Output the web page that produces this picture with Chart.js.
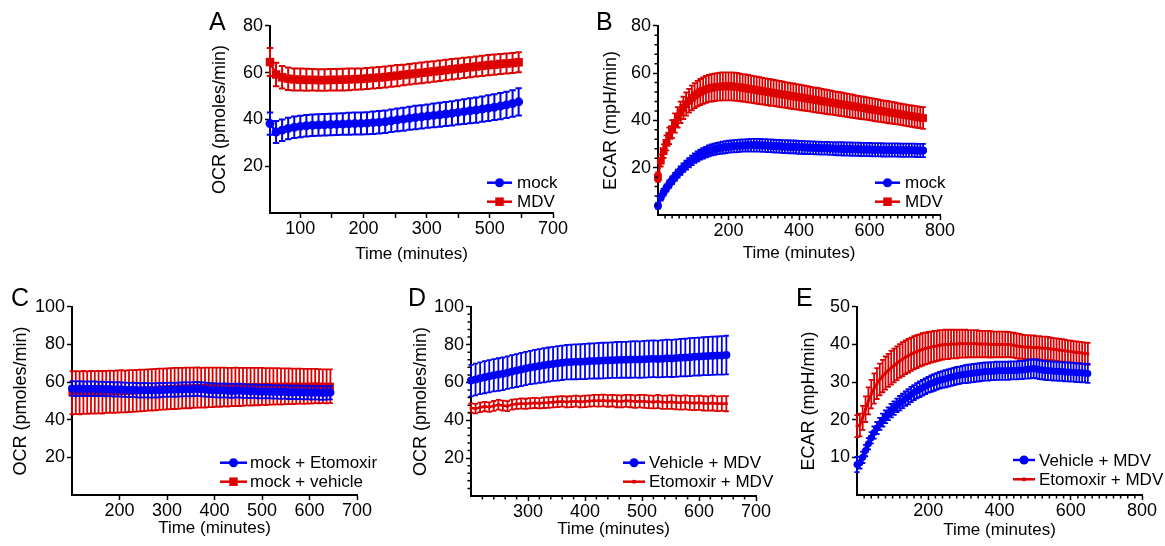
<!DOCTYPE html>
<html><head><meta charset="utf-8">
<script src="https://cdn.jsdelivr.net/npm/chart.js@4.4.1/dist/chart.umd.min.js"></script>
<style>
html,body{margin:0;padding:0;background:#fff;}
body{width:1165px;height:546px;position:relative;overflow:hidden;font-family:'Liberation Sans',Arial,sans-serif;}
.letter{position:absolute;font-size:25px;line-height:25px;color:#000;z-index:5;}
</style></head><body>
<div class="letter" style="left:209px;top:9px">A</div>
<div class="letter" style="left:596px;top:9px">B</div>
<div class="letter" style="left:11px;top:285px">C</div>
<div class="letter" style="left:408px;top:285px">D</div>
<div class="letter" style="left:796px;top:285px">E</div>
<script>
// ---------------- Panel A : OCR, mock vs MDV ----------------
const A_TIME = [52,61.6,71.2,80.8,90.4,100,109.6,119.2,128.8,138.4,
  148,157.6,167.2,176.8,186.4,196,205.6,215.2,224.8,234.4,
  244,253.6,263.2,272.8,282.4,292,301.6,311.2,320.8,330.4,
  340,349.6,359.2,368.8,378.4,388,397.6,407.2,416.8,426.4,
  436,445.6];
const A_MOCK = [38.2,34.6,35.4,36.1,36.6,37.0,37.3,37.5,37.6,37.7,
  37.8,37.9,38.0,38.1,38.2,38.3,38.4,38.6,38.8,39.0,
  39.4,39.8,40.1,40.5,40.8,41.1,41.4,41.7,42.0,42.3,
  42.6,43.0,43.3,43.7,44.0,44.4,44.8,45.2,45.7,46.2,
  46.8,47.5];
const A_MOCK_SD = [4.8,4.7,4.6,4.6,4.6,4.6,4.6,4.6,4.6,4.6,
  4.6,4.6,4.6,4.7,4.7,4.7,4.7,4.8,4.8,4.8,
  4.8,4.9,4.9,4.9,5.0,5.0,5.0,5.1,5.1,5.1,
  5.2,5.2,5.3,5.3,5.4,5.4,5.5,5.5,5.6,5.6,
  5.7,5.8];
const A_MDV = [64.5,59.2,58.0,57.4,57.1,57.0,56.9,56.9,56.8,56.8,
  56.9,56.9,57.0,57.1,57.2,57.3,57.5,57.7,57.9,58.1,
  58.4,58.7,59.0,59.3,59.6,59.9,60.2,60.5,60.8,61.1,
  61.4,61.7,62.0,62.3,62.6,62.9,63.2,63.4,63.7,63.9,
  64.1,64.4];
const A_MDV_SD = [6.0,5.0,4.8,4.8,4.7,4.7,4.7,4.6,4.6,4.6,
  4.6,4.6,4.6,4.6,4.5,4.5,4.5,4.5,4.5,4.5,
  4.5,4.5,4.4,4.4,4.4,4.4,4.4,4.4,4.4,4.4,
  4.4,4.3,4.3,4.3,4.3,4.3,4.3,4.3,4.3,4.3,
  4.3,4.3];
const A_X_TICKS = [100,150,200,250,300,350,400,450,500];
const A_X_LABELS = ['100','','200','','300','','500','','700'];
const A_Y_TICKS = [20,40,60,80];
const A_Y_LABELS = ['20','40','60','80'];

// ---------------- Panel B : ECAR, mock vs MDV ----------------
const B_TIME = [0,8,16,24,32,40,48,56,64,72,
  80,88,96,104,112,120,128,136,144,152,
  160,168,176,184,192,200,208,216,224,232,
  240,248,256,264,272,280,288,296,304,312,
  320,328,336,344,352,360,368,376,384,392,
  400,408,416,424,432,440,448,456,464,472,
  480,488,496,504,512,520,528,536,544,552,
  560,568,576,584,592,600,608,616,624,632,
  640,648,656,664,672,680,688,696,704,712,
  720,728,736,744,752];
const B_MOCK = [3.9,7.5,9.6,11.4,13.1,14.7,16.1,17.5,18.8,20.0,
  21.1,22.1,23.1,24.0,24.8,25.5,26.1,26.6,27.1,27.5,
  27.8,28.1,28.3,28.5,28.7,28.9,29.0,29.1,29.2,29.3,
  29.4,29.4,29.5,29.5,29.5,29.5,29.5,29.4,29.4,29.3,
  29.3,29.2,29.1,29.1,29.0,28.9,28.9,28.8,28.8,28.7,
  28.6,28.6,28.5,28.5,28.4,28.4,28.3,28.3,28.2,28.2,
  28.2,28.1,28.1,28.0,28.0,28.0,27.9,27.9,27.9,27.8,
  27.8,27.8,27.7,27.7,27.7,27.7,27.6,27.6,27.6,27.6,
  27.5,27.5,27.5,27.5,27.5,27.5,27.4,27.4,27.4,27.4,
  27.4,27.4,27.3,27.3,27.3];
const B_MOCK_SD = [1.2,1.4,1.5,1.5,1.6,1.6,1.7,1.7,1.8,1.8,
  1.9,1.9,2.0,2.0,2.1,2.1,2.2,2.2,2.3,2.3,
  2.4,2.4,2.4,2.5,2.5,2.5,2.5,2.6,2.6,2.6,
  2.6,2.6,2.6,2.7,2.7,2.7,2.7,2.7,2.7,2.7,
  2.7,2.7,2.7,2.7,2.7,2.7,2.7,2.7,2.7,2.7,
  2.7,2.7,2.7,2.7,2.7,2.7,2.7,2.7,2.7,2.7,
  2.7,2.7,2.7,2.7,2.8,2.8,2.8,2.8,2.8,2.8,
  2.8,2.8,2.8,2.8,2.8,2.8,2.8,2.8,2.8,2.8,
  2.8,2.8,2.8,2.8,2.8,2.8,2.8,2.8,2.8,2.8,
  2.8,2.8,2.8,2.8,2.8];
const B_MDV = [16.0,23.0,27.0,30.5,33.5,36.3,38.9,41.3,43.4,45.3,
  46.9,48.3,49.5,50.5,51.3,52.0,52.6,53.1,53.5,53.8,
  54.0,54.2,54.3,54.4,54.4,54.4,54.4,54.3,54.2,54.0,
  53.8,53.6,53.4,53.2,53.0,52.8,52.6,52.4,52.2,52.0,
  51.8,51.6,51.4,51.2,51.0,50.8,50.6,50.4,50.2,50.0,
  49.8,49.6,49.4,49.2,49.0,48.8,48.6,48.4,48.2,48.0,
  47.8,47.6,47.4,47.2,47.0,46.8,46.6,46.4,46.2,46.0,
  45.8,45.6,45.4,45.2,45.0,44.8,44.6,44.4,44.2,44.0,
  43.8,43.6,43.4,43.2,43.0,42.8,42.6,42.4,42.2,42.0,
  41.8,41.6,41.4,41.2,41.0];
const B_MDV_SD = [2.0,2.5,2.9,3.2,3.5,3.8,4.1,4.3,4.5,4.7,
  4.9,5.0,5.2,5.3,5.4,5.5,5.6,5.7,5.7,5.8,
  5.8,5.8,5.9,5.9,5.9,5.9,5.9,5.9,5.9,5.8,
  5.8,5.8,5.8,5.7,5.7,5.7,5.7,5.6,5.6,5.6,
  5.6,5.5,5.5,5.5,5.5,5.4,5.4,5.4,5.4,5.3,
  5.3,5.3,5.3,5.3,5.2,5.2,5.2,5.2,5.1,5.1,
  5.1,5.1,5.0,5.0,5.0,5.0,4.9,4.9,4.9,4.9,
  4.8,4.8,4.8,4.8,4.7,4.7,4.7,4.7,4.7,4.6,
  4.6,4.6,4.6,4.6,4.6,4.5,4.5,4.5,4.5,4.5,
  4.5,4.5,4.5,4.5,4.6];
const B_X_TICKS = [200,400,600,800];
const B_X_LABELS = ['200','400','600','800'];
const B_Y_TICKS = [20,40,60,80];
const B_Y_LABELS = ['20','40','60','80'];

// ---------------- Panel C : OCR, mock + Etomoxir vs mock + vehicle ----------------
const C_TIME = [100,108,116,124,132,140,148,156,164,172,
  180,188,196,204,212,220,228,236,244,252,
  260,268,276,284,292,300,308,316,324,332,
  340,348,356,364,372,380,388,396,404,412,
  420,428,436,444,452,460,468,476,484,492,
  500,508,516,524,532,540,548,556,564,572,
  580,588,596,604,612,620,628,636,644];
const C_ETO = [56.6,56.5,56.6,56.4,56.5,56.4,56.5,56.3,56.4,56.2,
  56.3,56.1,56.2,56.0,55.9,55.8,55.9,55.7,55.6,55.7,
  55.6,55.5,55.6,55.7,55.8,55.9,56.0,55.9,56.0,56.1,
  56.2,56.1,56.3,56.4,56.2,56.0,55.8,55.7,55.6,55.5,
  55.6,55.4,55.3,55.4,55.5,55.3,55.2,55.1,55.2,55.0,
  54.9,55.0,54.9,54.8,54.8,54.7,54.8,54.6,54.5,54.6,
  54.5,54.4,54.5,54.3,54.4,54.3,54.2,54.3,54.4];
const C_ETO_SD = [3.9,3.9,3.9,3.9,3.9,3.9,3.9,3.8,3.8,3.8,
  3.8,3.8,3.8,3.8,3.8,3.8,3.8,3.8,3.8,3.8,
  3.8,3.8,3.8,3.8,3.7,3.7,3.7,3.7,3.7,3.7,
  3.7,3.7,3.7,3.7,3.7,3.7,3.7,3.7,3.7,3.7,
  3.7,3.7,3.7,3.7,3.7,3.7,3.6,3.6,3.6,3.6,
  3.6,3.6,3.6,3.6,3.6,3.6,3.6,3.6,3.6,3.6,
  3.6,3.6,3.6,3.6,3.6,3.6,3.6,3.6,3.6];
const C_VEH = [54.3,54.4,54.3,54.5,54.4,54.6,54.5,54.7,54.6,54.8,
  54.9,54.8,55.0,55.1,55.0,55.2,55.3,55.4,55.5,55.6,
  55.8,55.9,56.0,56.2,56.3,56.4,56.5,56.6,56.7,56.8,
  56.9,56.9,57.0,57.1,57.0,57.1,57.2,57.2,57.3,57.3,
  57.4,57.3,57.4,57.5,57.4,57.5,57.6,57.5,57.6,57.6,
  57.7,57.6,57.7,57.7,57.8,57.7,57.8,57.8,57.7,57.8,
  57.8,57.7,57.8,57.8,57.9,57.8,57.8,57.7,57.8];
const C_VEH_SD = [11.4,11.4,11.4,11.4,11.3,11.3,11.3,11.3,11.3,11.2,
  11.2,11.2,11.2,11.2,11.1,11.1,11.1,11.1,11.1,11.0,
  11.0,11.0,11.0,11.0,10.9,10.9,10.9,10.9,10.9,10.8,
  10.8,10.8,10.7,10.7,10.6,10.6,10.5,10.5,10.4,10.4,
  10.3,10.3,10.2,10.2,10.1,10.1,10.0,10.0,9.9,9.9,
  9.8,9.8,9.7,9.7,9.6,9.6,9.5,9.5,9.4,9.4,
  9.3,9.3,9.2,9.2,9.1,9.1,9.0,9.0,9.0];
const C_X_TICKS = [200,300,400,500,600,700];
const C_X_LABELS = ['200','300','400','500','600','700'];
const C_Y_TICKS = [20,40,60,80,100];
const C_Y_LABELS = ['20','40','60','80','100'];

// ---------------- Panel D : OCR, Vehicle + MDV vs Etomoxir + MDV ----------------
const D_TIME = [200,208,216,224,232,240,248,256,264,272,
  280,288,296,304,312,320,328,336,344,352,
  360,368,376,384,392,400,408,416,424,432,
  440,448,456,464,472,480,488,496,504,512,
  520,528,536,544,552,560,568,576,584,592,
  600,608,616,624,632,640,648];
const D_VEH = [61.0,61.6,62.2,62.8,63.3,63.8,64.2,64.6,65.2,65.8,
  66.3,66.9,67.4,67.9,68.3,68.7,69.1,69.5,69.8,70.1,
  70.4,70.7,70.8,70.9,71.0,71.1,71.3,71.4,71.5,71.6,
  71.7,71.8,71.9,72.0,72.0,72.1,72.2,72.1,72.3,72.4,
  72.5,72.4,72.6,72.8,72.7,72.9,73.1,73.2,73.4,73.6,
  73.7,73.9,74.0,74.1,74.2,74.3,74.5];
const D_VEH_SD = [8.3,8.4,8.4,8.5,8.5,8.5,8.6,8.6,8.6,8.7,
  8.7,8.8,8.8,8.8,8.9,8.9,9.0,9.0,9.0,9.1,
  9.1,9.1,9.2,9.2,9.2,9.3,9.3,9.3,9.4,9.4,
  9.4,9.4,9.5,9.5,9.5,9.6,9.6,9.6,9.7,9.7,
  9.7,9.7,9.8,9.8,9.8,9.9,9.9,9.9,10.0,10.0,
  10.0,10.0,10.1,10.1,10.1,10.2,10.2];
const D_ETO = [46.5,46.2,46.8,47.3,47.0,47.6,48.2,47.8,47.5,48.3,
  48.6,48.9,48.7,49.0,49.2,49.0,49.3,49.4,49.6,49.8,
  50.0,49.7,49.9,50.1,49.8,50.0,50.2,50.4,50.3,50.5,
  50.2,50.4,50.1,50.0,50.3,50.2,49.9,50.1,50.0,49.8,
  49.7,49.9,49.6,49.5,49.7,49.4,49.3,49.5,49.2,49.1,
  49.3,49.0,48.9,49.1,48.8,48.9,48.8];
const D_ETO_SD = [2.5,2.5,2.5,2.5,2.5,2.6,2.6,2.6,2.6,2.6,
  2.6,2.7,2.7,2.7,2.7,2.7,2.8,2.8,2.8,2.8,
  2.8,2.9,2.9,2.9,3.0,3.0,3.0,3.0,3.1,3.1,
  3.1,3.1,3.2,3.2,3.2,3.3,3.3,3.3,3.4,3.4,
  3.4,3.5,3.5,3.5,3.6,3.6,3.6,3.7,3.7,3.7,
  3.8,3.8,3.8,3.9,3.9,3.9,4.0];
const D_X_TICKS = [300,400,500,600,700];
const D_X_LABELS = ['300','400','500','600','700'];
const D_Y_TICKS = [20,40,60,80,100];
const D_Y_LABELS = ['20','40','60','80','100'];

// ---------------- Panel E : ECAR, Vehicle + MDV vs Etomoxir + MDV ----------------
const E_TIME = [0,8,16,24,32,40,48,56,64,72,
  80,88,96,104,112,120,128,136,144,152,
  160,168,176,184,192,200,208,216,224,232,
  240,248,256,264,272,280,288,296,304,312,
  320,328,336,344,352,360,368,376,384,392,
  400,408,416,424,432,440,448,456,464,472,
  480,488,496,504,512,520,528,536,544,552,
  560,568,576,584,592,600,608,616,624,632,
  640,648];
const E_VEH = [8.1,8.6,10.0,11.8,13.6,15.2,16.6,17.8,18.9,19.9,
  20.8,21.6,22.4,23.1,23.8,24.4,25.0,25.6,26.1,26.7,
  27.2,27.7,28.1,28.5,28.9,29.3,29.6,29.9,30.2,30.5,
  30.7,30.9,31.1,31.3,31.5,31.7,31.8,32.0,32.1,32.2,
  32.3,32.4,32.5,32.6,32.7,32.8,32.8,32.9,32.9,33.0,
  33.0,33.0,33.0,33.0,33.1,33.1,33.1,33.2,33.2,33.3,
  33.4,33.5,33.6,33.5,33.3,33.2,33.1,33.0,33.0,32.9,
  32.9,32.8,32.8,32.7,32.7,32.6,32.6,32.5,32.5,32.4,
  32.4,32.3];
const E_VEH_SD = [2.0,1.6,1.5,1.5,1.5,1.5,1.6,1.6,1.6,1.7,
  1.7,1.7,1.8,1.8,1.8,1.9,1.9,1.9,2.0,2.0,
  2.0,2.0,2.1,2.1,2.1,2.1,2.2,2.2,2.2,2.2,
  2.2,2.3,2.3,2.3,2.3,2.3,2.3,2.3,2.4,2.4,
  2.4,2.4,2.4,2.4,2.4,2.4,2.4,2.4,2.4,2.4,
  2.4,2.4,2.4,2.4,2.4,2.4,2.4,2.4,2.4,2.4,
  2.5,2.5,2.5,2.5,2.5,2.5,2.5,2.5,2.5,2.5,
  2.5,2.5,2.5,2.5,2.5,2.5,2.5,2.5,2.5,2.5,
  2.5,2.5];
const E_ETO = [18.3,18.6,20.5,22.8,25.0,26.8,28.3,29.6,30.7,31.6,
  32.4,33.1,33.8,34.4,35.0,35.6,36.1,36.6,37.0,37.4,
  37.8,38.1,38.4,38.7,38.9,39.1,39.3,39.5,39.6,39.8,
  39.9,40.0,40.0,40.1,40.1,40.1,40.2,40.2,40.2,40.2,
  40.2,40.2,40.2,40.1,40.1,40.1,40.1,40.0,40.0,40.0,
  40.0,40.0,40.0,40.0,39.9,39.8,39.6,39.5,39.4,39.3,
  39.3,39.2,39.2,39.1,39.1,39.0,39.0,38.9,38.8,38.7,
  38.6,38.5,38.4,38.3,38.2,38.1,38.0,37.9,37.8,37.7,
  37.6,37.5];
const E_ETO_SD = [2.9,3.0,3.2,3.4,3.6,3.8,4.0,4.1,4.2,4.3,
  4.4,4.4,4.5,4.5,4.5,4.5,4.5,4.5,4.5,4.4,
  4.4,4.4,4.3,4.3,4.2,4.2,4.1,4.1,4.0,4.0,
  3.9,3.9,3.9,3.8,3.8,3.8,3.7,3.7,3.7,3.6,
  3.6,3.6,3.6,3.5,3.5,3.5,3.5,3.5,3.4,3.4,
  3.4,3.4,3.4,3.3,3.3,3.3,3.3,3.3,3.2,3.2,
  3.2,3.2,3.2,3.1,3.1,3.1,3.1,3.1,3.0,3.0,
  3.0,3.0,3.0,3.0,2.9,2.9,2.9,2.9,2.9,2.9,
  2.9,2.9];
const E_X_TICKS = [200,400,600,800];
const E_X_LABELS = ['200','400','600','800'];
const E_Y_TICKS = [10,20,30,40,50];
const E_Y_LABELS = ['10','20','30','40','50'];

// ---------------- rendering ----------------
const BLUE = '#0000f5';
const RED = '#dc0000';
const FONT = "'Liberation Sans', Arial, Helvetica, sans-serif";
Chart.defaults.font.family = FONT;
Chart.defaults.color = '#000';

function minorList(from, to, step, majorStep) {
  const out = [];
  for (let v = from; v <= to + 1e-9; v += step) {
    if (Math.abs(v / majorStep - Math.round(v / majorStep)) > 1e-6) out.push(v);
  }
  return out;
}

const errorBars = {
  id: 'errorBars',
  beforeDatasetDraw(chart, args) {
    const ds = chart.data.datasets[args.index];
    if (!ds.sd) return;
    const xs = chart.scales.x, ys = chart.scales.y, ctx = chart.ctx;
    const hw = ds.capHalf;
    ctx.save();
    ctx.strokeStyle = ds.borderColor;
    ctx.lineWidth = ds.errWidth;
    ctx.beginPath();
    const n = Math.min(ds.data.length, ds.sd.length);
    for (let i = 0; i < n; i++) {
      const p = ds.data[i];
      const x = xs.getPixelForValue(p.x);
      const yt = ys.getPixelForValue(p.y + ds.sd[i]);
      const yb = ys.getPixelForValue(p.y - ds.sd[i]);
      ctx.moveTo(x, yt); ctx.lineTo(x, yb);
      ctx.moveTo(x - hw, yt); ctx.lineTo(x + hw, yt);
      ctx.moveTo(x - hw, yb); ctx.lineTo(x + hw, yb);
    }
    ctx.stroke();
    ctx.restore();
  }
};

const extras = {
  id: 'extras',
  afterDraw(chart, args, o) {
    const ctx = chart.ctx, ca = chart.chartArea;
    const xs = chart.scales.x, ys = chart.scales.y;
    ctx.save();
    ctx.strokeStyle = '#000';
    ctx.lineWidth = 1.5;
    ctx.beginPath();
    (o.xMinor || []).forEach(v => {
      const px = xs.getPixelForValue(v);
      ctx.moveTo(px, ca.bottom); ctx.lineTo(px, ca.bottom + o.minorLen);
    });
    (o.yMinor || []).forEach(v => {
      const py = ys.getPixelForValue(v);
      ctx.moveTo(ca.left, py); ctx.lineTo(ca.left - o.minorLen, py);
    });
    ctx.stroke();
    // legend
    const L = o.legend;
    chart.data.datasets.forEach((ds, i) => {
      const y = L.rows[i] - o.oy;
      const x1 = L.x1 - o.ox, x2 = L.x2 - o.ox;
      ctx.strokeStyle = ds.borderColor;
      ctx.lineWidth = 2.5;
      ctx.beginPath(); ctx.moveTo(x1, y); ctx.lineTo(x2, y); ctx.stroke();
      ctx.fillStyle = ds.borderColor;
      Chart.helpers.drawPoint(ctx, {pointStyle: ds.pointStyle, radius: ds.legendRadius, borderWidth: 0, rotation: 0}, (x1 + x2) / 2, y);
      ctx.fillStyle = '#000';
      ctx.font = '17px ' + FONT;
      ctx.textBaseline = 'middle';
      ctx.textAlign = 'left';
      ctx.fillText(ds.label, L.textX - o.ox, y + 1);
    });
    ctx.restore();
  }
};
Chart.register(errorBars, extras);

function makePanel(p) {
  const cv = document.createElement('canvas');
  cv.width = p.w; cv.height = p.h;
  cv.style.cssText = 'position:absolute;left:' + p.left + 'px;top:' + p.top + 'px;width:' + p.w + 'px;height:' + p.h + 'px;';
  document.body.appendChild(cv);
  const datasets = p.series.map(s => ({
    label: s.label,
    data: p.time.map((t, i) => ({x: t, y: s.mean[i]})),
    sd: s.sd,
    borderColor: s.color,
    backgroundColor: s.color,
    pointBackgroundColor: s.color,
    pointBorderColor: s.color,
    pointBorderWidth: 0,
    pointStyle: s.pointStyle,
    pointRadius: s.radius,
    pointHoverRadius: s.radius,
    legendRadius: s.legendRadius,
    borderWidth: 2.5,
    capHalf: p.capHalf,
    errWidth: p.errWidth,
    clip: false,
    tension: 0,
    fill: false
  }));
  const axisCommon = {
    grid: {drawOnChartArea: false, drawTicks: true, tickLength: 5, tickWidth: 1.5, tickColor: '#000', color: '#000'},
    border: {display: true, color: '#000', width: 2}
  };
  new Chart(cv, {
    type: 'line',
    data: {datasets},
    options: {
      responsive: false,
      animation: false,
      devicePixelRatio: 1,
      events: [],
      layout: {padding: {top: p.padTop, right: p.padRight, left: 0, bottom: 0}, autoPadding: false},
      plugins: {
        legend: {display: false},
        tooltip: {enabled: false},
        extras: {xMinor: p.xMinor, yMinor: p.yMinor, minorLen: 3.5, legend: p.legend, ox: p.left, oy: p.top}
      },
      scales: {
        x: Object.assign({}, axisCommon, {
          type: 'linear', position: 'bottom', min: p.xMin, max: p.xMax,
          afterBuildTicks: s => { s.ticks = p.xTicks.map(v => ({value: v})); },
          afterFit: s => { s.height = p.xh; },
          ticks: {autoSkip: false, maxRotation: 0, minRotation: 0, padding: 0, color: '#000', font: {size: 18},
                  callback: (v, i) => p.xLabels[i]},
          title: {display: true, text: 'Time (minutes)', color: '#000', font: {size: 17}, padding: 0}
        }),
        y: Object.assign({}, axisCommon, {
          type: 'linear', position: 'left', min: p.yMin, max: p.yMax,
          afterBuildTicks: s => { s.ticks = p.yTicks.map(v => ({value: v})); },
          afterFit: s => { s.width = p.yw; },
          ticks: {autoSkip: false, padding: 2, color: '#000', font: {size: 18},
                  callback: (v, i) => p.yLabels[i]},
          title: {display: true, text: p.yTitle, color: '#000', font: {size: 18}, padding: 0}
        })
      }
    }
  });
}

makePanel({
  left: 209, top: 13, w: 362, h: 252, yw: 61, xh: 52, padTop: 12, padRight: 18,
  xMin: 52, xMax: 500, yMin: 0, yMax: 80,
  xTicks: A_X_TICKS, xLabels: A_X_LABELS, yTicks: A_Y_TICKS, yLabels: A_Y_LABELS,
  xMinor: [], yMinor: [],
  yTitle: 'OCR (pmoles/min)', capHalf: 3.2, errWidth: 2, time: A_TIME,
  series: [
    {label: 'mock', mean: A_MOCK, sd: A_MOCK_SD, color: BLUE, pointStyle: 'circle', radius: 4.5, legendRadius: 4.5},
    {label: 'MDV', mean: A_MDV, sd: A_MDV_SD, color: RED, pointStyle: 'rect', radius: 6, legendRadius: 6}
  ],
  legend: {x1: 487, x2: 512, rows: [182.7, 201.7], textX: 517}
});

makePanel({
  left: 600, top: 13, w: 358, h: 251, yw: 58, xh: 49, padTop: 12, padRight: 18,
  xMin: 0, xMax: 800, yMin: 0, yMax: 80,
  xTicks: B_X_TICKS, xLabels: B_X_LABELS, yTicks: B_Y_TICKS, yLabels: B_Y_LABELS,
  xMinor: minorList(20, 780, 20, 200), yMinor: minorList(4, 76, 4, 20),
  yTitle: 'ECAR (mpH/min)', capHalf: 2.8, errWidth: 1.8, time: B_TIME,
  series: [
    {label: 'mock', mean: B_MOCK, sd: B_MOCK_SD, color: BLUE, pointStyle: 'circle', radius: 4, legendRadius: 4.5},
    {label: 'MDV', mean: B_MDV, sd: B_MDV_SD, color: RED, pointStyle: 'rect', radius: 5.5, legendRadius: 6}
  ],
  legend: {x1: 875, x2: 900, rows: [182.7, 201.7], textX: 905}
});

makePanel({
  left: 10, top: 294, w: 372, h: 245, yw: 62, xh: 44, padTop: 12, padRight: 25,
  xMin: 100, xMax: 700, yMin: 0, yMax: 100,
  xTicks: C_X_TICKS, xLabels: C_X_LABELS, yTicks: C_Y_TICKS, yLabels: C_Y_LABELS,
  xMinor: [], yMinor: [],
  yTitle: 'OCR (pmoles/min)', capHalf: 2.4, errWidth: 1.8, time: C_TIME,
  series: [
    {label: 'mock + Etomoxir', mean: C_ETO, sd: C_ETO_SD, color: BLUE, pointStyle: 'circle', radius: 4, legendRadius: 4.5},
    {label: 'mock + vehicle', mean: C_VEH, sd: C_VEH_SD, color: RED, pointStyle: 'rect', radius: 5, legendRadius: 6}
  ],
  legend: {x1: 220, x2: 247, rows: [462.7, 481.7], textX: 250}
});

makePanel({
  left: 410, top: 294, w: 372, h: 246, yw: 61, xh: 44, padTop: 12, padRight: 26,
  xMin: 200, xMax: 700, yMin: 0, yMax: 100,
  xTicks: D_X_TICKS, xLabels: D_X_LABELS, yTicks: D_Y_TICKS, yLabels: D_Y_LABELS,
  xMinor: minorList(220, 680, 20, 100), yMinor: minorList(4, 96, 4, 20),
  yTitle: 'OCR (pmoles/min)', capHalf: 2.5, errWidth: 1.8, time: D_TIME,
  series: [
    {label: 'Vehicle + MDV', mean: D_VEH, sd: D_VEH_SD, color: BLUE, pointStyle: 'circle', radius: 4, legendRadius: 4.5},
    {label: 'Etomoxir + MDV', mean: D_ETO, sd: D_ETO_SD, color: RED, pointStyle: 'rect', radius: 2, legendRadius: 2.5}
  ],
  legend: {x1: 623, x2: 645, rows: [462.7, 481.7], textX: 649}
});

makePanel({
  left: 798, top: 294, w: 366, h: 247, yw: 59, xh: 46, padTop: 12, padRight: 22,
  xMin: 0, xMax: 800, yMin: 0, yMax: 50,
  xTicks: E_X_TICKS, xLabels: E_X_LABELS, yTicks: E_Y_TICKS, yLabels: E_Y_LABELS,
  xMinor: minorList(20, 780, 20, 200), yMinor: [],
  yTitle: 'ECAR (mpH/min)', capHalf: 2.6, errWidth: 1.8, time: E_TIME,
  series: [
    {label: 'Vehicle + MDV', mean: E_VEH, sd: E_VEH_SD, color: BLUE, pointStyle: 'circle', radius: 3.5, legendRadius: 4.5},
    {label: 'Etomoxir + MDV', mean: E_ETO, sd: E_ETO_SD, color: RED, pointStyle: 'rect', radius: 2, legendRadius: 2.5}
  ],
  legend: {x1: 1013, x2: 1035, rows: [460, 479.3], textX: 1039}
});
</script>
</body></html>
